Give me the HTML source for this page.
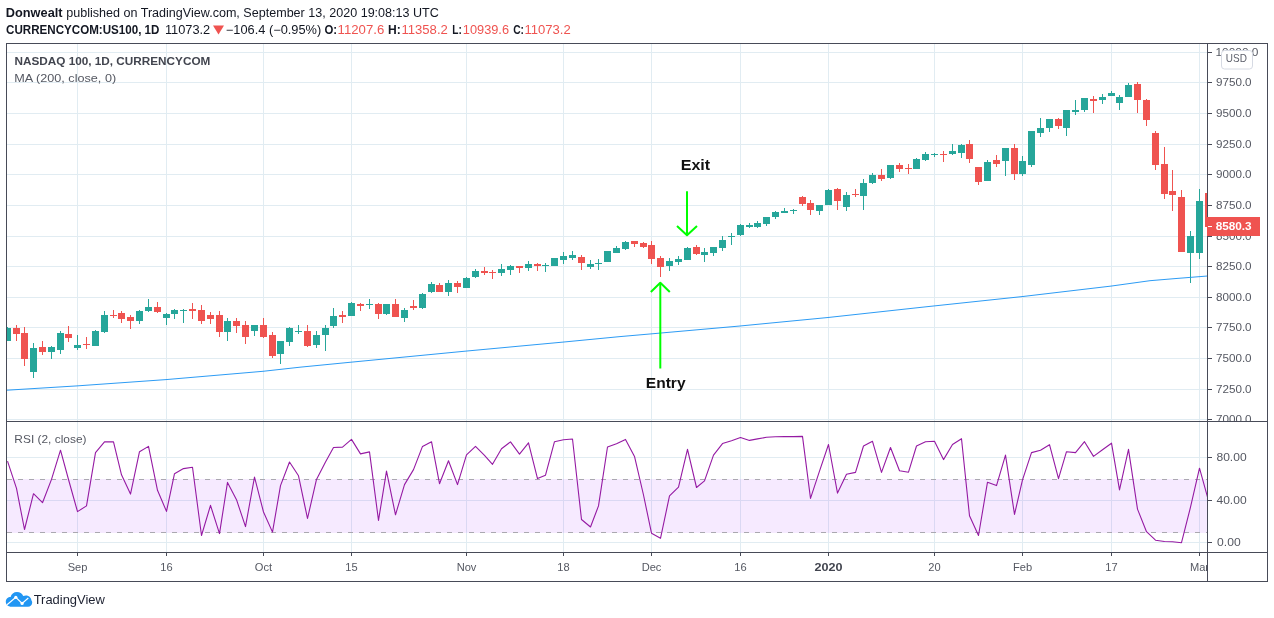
<!DOCTYPE html>
<html><head><meta charset="utf-8"><title>chart</title>
<style>
html,body{margin:0;padding:0;background:#fff;}
body{width:1274px;height:618px;overflow:hidden;position:relative;font-family:"Liberation Sans",sans-serif;}
svg{position:absolute;left:0;top:0;will-change:transform;}
svg text{font-family:"Liberation Sans",sans-serif;}
.ax{font-size:11.4px;fill:#555862;}
.b{font-weight:bold;}
.hd{position:absolute;white-space:nowrap;font-size:12px;line-height:14px;color:#131722;}
.hd b{font-weight:bold;}
.red{color:#ef5350;}
</style></head><body>
<svg width="1274" height="618" viewBox="0 0 1274 618">
<polygon points="213,25.5 224,25.5 218.5,34.5" fill="#ef5350"/>
<text x="5.8" y="17.0" textLength="56.74" lengthAdjust="spacingAndGlyphs" style="font-size:12px;font-weight:bold;fill:#131722">Donwealt</text><text x="66.23" y="17.0" textLength="372.64" lengthAdjust="spacingAndGlyphs" style="font-size:12px;font-weight:normal;fill:#131722">published on TradingView.com, September 13, 2020 19:08:13 UTC</text><text x="6.04" y="33.9" textLength="153.4" lengthAdjust="spacingAndGlyphs" style="font-size:12px;font-weight:bold;fill:#131722">CURRENCYCOM:US100, 1D</text><text x="164.93" y="33.9" textLength="45.31" lengthAdjust="spacingAndGlyphs" style="font-size:12px;font-weight:normal;fill:#131722">11073.2</text><text x="225.86" y="33.9" textLength="95.31" lengthAdjust="spacingAndGlyphs" style="font-size:12px;font-weight:normal;fill:#131722">−106.4 (−0.95%)</text><text x="324.43" y="33.9" textLength="12.68" lengthAdjust="spacingAndGlyphs" style="font-size:12px;font-weight:bold;fill:#131722">O:</text><text x="337.6" y="33.9" textLength="46.64" lengthAdjust="spacingAndGlyphs" style="font-size:12px;font-weight:normal;fill:#ef5350">11207.6</text><text x="388.11" y="33.9" textLength="12.75" lengthAdjust="spacingAndGlyphs" style="font-size:12px;font-weight:bold;fill:#131722">H:</text><text x="401.44" y="33.9" textLength="46.42" lengthAdjust="spacingAndGlyphs" style="font-size:12px;font-weight:normal;fill:#ef5350">11358.2</text><text x="452.26" y="33.9" textLength="9.56" lengthAdjust="spacingAndGlyphs" style="font-size:12px;font-weight:bold;fill:#131722">L:</text><text x="462.87" y="33.9" textLength="46.18" lengthAdjust="spacingAndGlyphs" style="font-size:12px;font-weight:normal;fill:#ef5350">10939.6</text><text x="513.21" y="33.9" textLength="10.81" lengthAdjust="spacingAndGlyphs" style="font-size:12px;font-weight:bold;fill:#131722">C:</text><text x="524.44" y="33.9" textLength="46.24" lengthAdjust="spacingAndGlyphs" style="font-size:12px;font-weight:normal;fill:#ef5350">11073.2</text>
<!-- rsi band -->
<g shape-rendering="crispEdges">
<rect x="7" y="52" width="1200" height="1" fill="#e1ecf2"/>
<rect x="7" y="82" width="1200" height="1" fill="#e1ecf2"/>
<rect x="7" y="113" width="1200" height="1" fill="#e1ecf2"/>
<rect x="7" y="144" width="1200" height="1" fill="#e1ecf2"/>
<rect x="7" y="174" width="1200" height="1" fill="#e1ecf2"/>
<rect x="7" y="205" width="1200" height="1" fill="#e1ecf2"/>
<rect x="7" y="236" width="1200" height="1" fill="#e1ecf2"/>
<rect x="7" y="266" width="1200" height="1" fill="#e1ecf2"/>
<rect x="7" y="297" width="1200" height="1" fill="#e1ecf2"/>
<rect x="7" y="327" width="1200" height="1" fill="#e1ecf2"/>
<rect x="7" y="358" width="1200" height="1" fill="#e1ecf2"/>
<rect x="7" y="389" width="1200" height="1" fill="#e1ecf2"/>
<rect x="7" y="419" width="1200" height="1" fill="#e1ecf2"/>
<rect x="7" y="457" width="1200" height="1" fill="#e1ecf2"/>
<rect x="7" y="500" width="1200" height="1" fill="#e1ecf2"/>
<rect x="7" y="542" width="1200" height="1" fill="#e1ecf2"/>
<rect x="77" y="44" width="1" height="508" fill="#e1ecf2"/>
<rect x="166" y="44" width="1" height="508" fill="#e1ecf2"/>
<rect x="263" y="44" width="1" height="508" fill="#e1ecf2"/>
<rect x="351" y="44" width="1" height="508" fill="#e1ecf2"/>
<rect x="466" y="44" width="1" height="508" fill="#e1ecf2"/>
<rect x="563" y="44" width="1" height="508" fill="#e1ecf2"/>
<rect x="651" y="44" width="1" height="508" fill="#e1ecf2"/>
<rect x="740" y="44" width="1" height="508" fill="#e1ecf2"/>
<rect x="828" y="44" width="1" height="508" fill="#e1ecf2"/>
<rect x="934" y="44" width="1" height="508" fill="#e1ecf2"/>
<rect x="1022" y="44" width="1" height="508" fill="#e1ecf2"/>
<rect x="1111" y="44" width="1" height="508" fill="#e1ecf2"/>
<rect x="1199" y="44" width="1" height="508" fill="#e1ecf2"/>
</g>
<rect x="7" y="479" width="1200" height="54" fill="#9915ff" fill-opacity="0.09"/>
<g shape-rendering="crispEdges" stroke="#aaa8b0" stroke-width="1" stroke-dasharray="5 6">
<line x1="7" y1="479.5" x2="1207" y2="479.5"/>
<line x1="7" y1="532.5" x2="1207" y2="532.5"/>
</g>
<clipPath id="cm"><rect x="7" y="44" width="1200" height="377"/></clipPath>
<clipPath id="cr"><rect x="7" y="422" width="1200" height="130"/></clipPath>
<g clip-path="url(#cm)">
<g shape-rendering="crispEdges">
<rect x="7" y="327" width="1" height="14" fill="#26a69a"/>
<rect x="4" y="328" width="7" height="13" fill="#26a69a"/>
<rect x="16" y="325" width="1" height="16" fill="#ef5350"/>
<rect x="13" y="328" width="7" height="6" fill="#ef5350"/>
<rect x="24" y="327" width="1" height="39" fill="#ef5350"/>
<rect x="21" y="333" width="7" height="26" fill="#ef5350"/>
<rect x="33" y="343" width="1" height="35" fill="#26a69a"/>
<rect x="30" y="348" width="7" height="24" fill="#26a69a"/>
<rect x="42" y="341" width="1" height="14" fill="#ef5350"/>
<rect x="39" y="347" width="7" height="5" fill="#ef5350"/>
<rect x="51" y="346" width="1" height="13" fill="#26a69a"/>
<rect x="48" y="347" width="7" height="5" fill="#26a69a"/>
<rect x="60" y="331" width="1" height="23" fill="#26a69a"/>
<rect x="57" y="333" width="7" height="17" fill="#26a69a"/>
<rect x="68" y="326" width="1" height="16" fill="#ef5350"/>
<rect x="65" y="334" width="7" height="4" fill="#ef5350"/>
<rect x="77" y="335" width="1" height="15" fill="#26a69a"/>
<rect x="74" y="345" width="7" height="3" fill="#26a69a"/>
<rect x="86" y="337" width="1" height="12" fill="#ef5350"/>
<rect x="83" y="344" width="7" height="1" fill="#ef5350"/>
<rect x="95" y="330" width="1" height="16" fill="#26a69a"/>
<rect x="92" y="331" width="7" height="15" fill="#26a69a"/>
<rect x="104" y="311" width="1" height="22" fill="#26a69a"/>
<rect x="101" y="315" width="7" height="17" fill="#26a69a"/>
<rect x="113" y="310" width="1" height="8" fill="#ef5350"/>
<rect x="110" y="315" width="7" height="1" fill="#ef5350"/>
<rect x="121" y="311" width="1" height="12" fill="#ef5350"/>
<rect x="118" y="313" width="7" height="6" fill="#ef5350"/>
<rect x="130" y="315" width="1" height="14" fill="#ef5350"/>
<rect x="127" y="317" width="7" height="4" fill="#ef5350"/>
<rect x="139" y="310" width="1" height="14" fill="#26a69a"/>
<rect x="136" y="311" width="7" height="10" fill="#26a69a"/>
<rect x="148" y="299" width="1" height="13" fill="#26a69a"/>
<rect x="145" y="307" width="7" height="4" fill="#26a69a"/>
<rect x="157" y="302" width="1" height="11" fill="#ef5350"/>
<rect x="154" y="307" width="7" height="5" fill="#ef5350"/>
<rect x="166" y="313" width="1" height="12" fill="#26a69a"/>
<rect x="163" y="314" width="7" height="4" fill="#26a69a"/>
<rect x="174" y="309" width="1" height="10" fill="#26a69a"/>
<rect x="171" y="310" width="7" height="4" fill="#26a69a"/>
<rect x="183" y="309" width="1" height="14" fill="#26a69a"/>
<rect x="180" y="310" width="7" height="1" fill="#26a69a"/>
<rect x="192" y="303" width="1" height="16" fill="#ef5350"/>
<rect x="189" y="309" width="7" height="2" fill="#ef5350"/>
<rect x="201" y="305" width="1" height="19" fill="#ef5350"/>
<rect x="198" y="310" width="7" height="11" fill="#ef5350"/>
<rect x="210" y="312" width="1" height="12" fill="#ef5350"/>
<rect x="207" y="315" width="7" height="4" fill="#ef5350"/>
<rect x="219" y="311" width="1" height="26" fill="#ef5350"/>
<rect x="216" y="315" width="7" height="17" fill="#ef5350"/>
<rect x="227" y="318" width="1" height="23" fill="#26a69a"/>
<rect x="224" y="321" width="7" height="11" fill="#26a69a"/>
<rect x="236" y="318" width="1" height="15" fill="#ef5350"/>
<rect x="233" y="321" width="7" height="5" fill="#ef5350"/>
<rect x="245" y="321" width="1" height="23" fill="#ef5350"/>
<rect x="242" y="325" width="7" height="12" fill="#ef5350"/>
<rect x="254" y="325" width="1" height="11" fill="#26a69a"/>
<rect x="251" y="325" width="7" height="6" fill="#26a69a"/>
<rect x="263" y="318" width="1" height="20" fill="#ef5350"/>
<rect x="260" y="325" width="7" height="12" fill="#ef5350"/>
<rect x="272" y="332" width="1" height="26" fill="#ef5350"/>
<rect x="269" y="335" width="7" height="21" fill="#ef5350"/>
<rect x="280" y="341" width="1" height="23" fill="#26a69a"/>
<rect x="277" y="341" width="7" height="13" fill="#26a69a"/>
<rect x="289" y="327" width="1" height="19" fill="#26a69a"/>
<rect x="286" y="328" width="7" height="14" fill="#26a69a"/>
<rect x="298" y="325" width="1" height="9" fill="#26a69a"/>
<rect x="295" y="331" width="7" height="1" fill="#26a69a"/>
<rect x="307" y="325" width="1" height="22" fill="#ef5350"/>
<rect x="304" y="331" width="7" height="15" fill="#ef5350"/>
<rect x="316" y="331" width="1" height="17" fill="#26a69a"/>
<rect x="313" y="335" width="7" height="10" fill="#26a69a"/>
<rect x="325" y="325" width="1" height="26" fill="#26a69a"/>
<rect x="322" y="328" width="7" height="7" fill="#26a69a"/>
<rect x="333" y="308" width="1" height="20" fill="#26a69a"/>
<rect x="330" y="316" width="7" height="10" fill="#26a69a"/>
<rect x="342" y="311" width="1" height="12" fill="#ef5350"/>
<rect x="339" y="315" width="7" height="2" fill="#ef5350"/>
<rect x="351" y="302" width="1" height="14" fill="#26a69a"/>
<rect x="348" y="303" width="7" height="13" fill="#26a69a"/>
<rect x="360" y="303" width="1" height="8" fill="#ef5350"/>
<rect x="357" y="304" width="7" height="2" fill="#ef5350"/>
<rect x="369" y="299" width="1" height="10" fill="#26a69a"/>
<rect x="366" y="304" width="7" height="1" fill="#26a69a"/>
<rect x="378" y="303" width="1" height="16" fill="#ef5350"/>
<rect x="375" y="304" width="7" height="10" fill="#ef5350"/>
<rect x="386" y="304" width="1" height="11" fill="#26a69a"/>
<rect x="383" y="304" width="7" height="10" fill="#26a69a"/>
<rect x="395" y="299" width="1" height="18" fill="#ef5350"/>
<rect x="392" y="304" width="7" height="13" fill="#ef5350"/>
<rect x="404" y="308" width="1" height="14" fill="#26a69a"/>
<rect x="401" y="310" width="7" height="8" fill="#26a69a"/>
<rect x="413" y="300" width="1" height="10" fill="#ef5350"/>
<rect x="410" y="306" width="7" height="2" fill="#ef5350"/>
<rect x="422" y="293" width="1" height="16" fill="#26a69a"/>
<rect x="419" y="294" width="7" height="14" fill="#26a69a"/>
<rect x="431" y="282" width="1" height="11" fill="#26a69a"/>
<rect x="428" y="284" width="7" height="8" fill="#26a69a"/>
<rect x="439" y="283" width="1" height="9" fill="#ef5350"/>
<rect x="436" y="285" width="7" height="7" fill="#ef5350"/>
<rect x="448" y="280" width="1" height="16" fill="#26a69a"/>
<rect x="445" y="283" width="7" height="9" fill="#26a69a"/>
<rect x="457" y="281" width="1" height="12" fill="#ef5350"/>
<rect x="454" y="283" width="7" height="4" fill="#ef5350"/>
<rect x="466" y="277" width="1" height="11" fill="#26a69a"/>
<rect x="463" y="278" width="7" height="10" fill="#26a69a"/>
<rect x="475" y="269" width="1" height="9" fill="#26a69a"/>
<rect x="472" y="271" width="7" height="6" fill="#26a69a"/>
<rect x="484" y="267" width="1" height="8" fill="#ef5350"/>
<rect x="481" y="271" width="7" height="2" fill="#ef5350"/>
<rect x="492" y="270" width="1" height="9" fill="#ef5350"/>
<rect x="489" y="272" width="7" height="1" fill="#ef5350"/>
<rect x="501" y="264" width="1" height="12" fill="#26a69a"/>
<rect x="498" y="269" width="7" height="4" fill="#26a69a"/>
<rect x="510" y="265" width="1" height="10" fill="#26a69a"/>
<rect x="507" y="266" width="7" height="4" fill="#26a69a"/>
<rect x="519" y="266" width="1" height="7" fill="#ef5350"/>
<rect x="516" y="266" width="7" height="2" fill="#ef5350"/>
<rect x="528" y="261" width="1" height="10" fill="#26a69a"/>
<rect x="525" y="264" width="7" height="4" fill="#26a69a"/>
<rect x="537" y="263" width="1" height="8" fill="#ef5350"/>
<rect x="534" y="264" width="7" height="2" fill="#ef5350"/>
<rect x="545" y="263" width="1" height="9" fill="#26a69a"/>
<rect x="542" y="265" width="7" height="1" fill="#26a69a"/>
<rect x="554" y="258" width="1" height="8" fill="#26a69a"/>
<rect x="551" y="258" width="7" height="8" fill="#26a69a"/>
<rect x="563" y="252" width="1" height="12" fill="#26a69a"/>
<rect x="560" y="256" width="7" height="4" fill="#26a69a"/>
<rect x="572" y="251" width="1" height="9" fill="#26a69a"/>
<rect x="569" y="255" width="7" height="3" fill="#26a69a"/>
<rect x="581" y="255" width="1" height="15" fill="#ef5350"/>
<rect x="578" y="257" width="7" height="6" fill="#ef5350"/>
<rect x="590" y="260" width="1" height="9" fill="#26a69a"/>
<rect x="587" y="264" width="7" height="3" fill="#26a69a"/>
<rect x="598" y="259" width="1" height="11" fill="#26a69a"/>
<rect x="595" y="263" width="7" height="1" fill="#26a69a"/>
<rect x="607" y="251" width="1" height="11" fill="#26a69a"/>
<rect x="604" y="251" width="7" height="11" fill="#26a69a"/>
<rect x="616" y="246" width="1" height="7" fill="#26a69a"/>
<rect x="613" y="248" width="7" height="5" fill="#26a69a"/>
<rect x="625" y="241" width="1" height="9" fill="#26a69a"/>
<rect x="622" y="242" width="7" height="7" fill="#26a69a"/>
<rect x="634" y="241" width="1" height="6" fill="#ef5350"/>
<rect x="631" y="241" width="7" height="3" fill="#ef5350"/>
<rect x="643" y="242" width="1" height="6" fill="#ef5350"/>
<rect x="640" y="243" width="7" height="4" fill="#ef5350"/>
<rect x="651" y="241" width="1" height="23" fill="#ef5350"/>
<rect x="648" y="245" width="7" height="14" fill="#ef5350"/>
<rect x="660" y="256" width="1" height="21" fill="#ef5350"/>
<rect x="657" y="258" width="7" height="9" fill="#ef5350"/>
<rect x="669" y="258" width="1" height="13" fill="#26a69a"/>
<rect x="666" y="261" width="7" height="5" fill="#26a69a"/>
<rect x="678" y="256" width="1" height="9" fill="#26a69a"/>
<rect x="675" y="259" width="7" height="3" fill="#26a69a"/>
<rect x="687" y="247" width="1" height="13" fill="#26a69a"/>
<rect x="684" y="248" width="7" height="12" fill="#26a69a"/>
<rect x="696" y="245" width="1" height="10" fill="#ef5350"/>
<rect x="693" y="247" width="7" height="7" fill="#ef5350"/>
<rect x="704" y="248" width="1" height="14" fill="#26a69a"/>
<rect x="701" y="252" width="7" height="3" fill="#26a69a"/>
<rect x="713" y="247" width="1" height="9" fill="#26a69a"/>
<rect x="710" y="247" width="7" height="6" fill="#26a69a"/>
<rect x="722" y="236" width="1" height="15" fill="#26a69a"/>
<rect x="719" y="240" width="7" height="8" fill="#26a69a"/>
<rect x="731" y="233" width="1" height="12" fill="#26a69a"/>
<rect x="728" y="236" width="7" height="1" fill="#26a69a"/>
<rect x="740" y="224" width="1" height="12" fill="#26a69a"/>
<rect x="737" y="225" width="7" height="10" fill="#26a69a"/>
<rect x="749" y="223" width="1" height="5" fill="#26a69a"/>
<rect x="746" y="225" width="7" height="2" fill="#26a69a"/>
<rect x="757" y="221" width="1" height="7" fill="#26a69a"/>
<rect x="754" y="223" width="7" height="4" fill="#26a69a"/>
<rect x="766" y="217" width="1" height="9" fill="#26a69a"/>
<rect x="763" y="217" width="7" height="7" fill="#26a69a"/>
<rect x="775" y="211" width="1" height="8" fill="#26a69a"/>
<rect x="772" y="212" width="7" height="5" fill="#26a69a"/>
<rect x="784" y="208" width="1" height="5" fill="#26a69a"/>
<rect x="781" y="211" width="7" height="2" fill="#26a69a"/>
<rect x="793" y="209" width="1" height="5" fill="#26a69a"/>
<rect x="790" y="210" width="7" height="1" fill="#26a69a"/>
<rect x="802" y="196" width="1" height="10" fill="#ef5350"/>
<rect x="799" y="197" width="7" height="7" fill="#ef5350"/>
<rect x="810" y="200" width="1" height="15" fill="#ef5350"/>
<rect x="807" y="203" width="7" height="7" fill="#ef5350"/>
<rect x="819" y="205" width="1" height="10" fill="#26a69a"/>
<rect x="816" y="205" width="7" height="6" fill="#26a69a"/>
<rect x="828" y="189" width="1" height="16" fill="#26a69a"/>
<rect x="825" y="190" width="7" height="15" fill="#26a69a"/>
<rect x="837" y="188" width="1" height="22" fill="#ef5350"/>
<rect x="834" y="189" width="7" height="12" fill="#ef5350"/>
<rect x="846" y="192" width="1" height="19" fill="#26a69a"/>
<rect x="843" y="195" width="7" height="12" fill="#26a69a"/>
<rect x="855" y="189" width="1" height="8" fill="#ef5350"/>
<rect x="852" y="194" width="7" height="1" fill="#ef5350"/>
<rect x="863" y="179" width="1" height="31" fill="#26a69a"/>
<rect x="860" y="183" width="7" height="13" fill="#26a69a"/>
<rect x="872" y="173" width="1" height="11" fill="#26a69a"/>
<rect x="869" y="175" width="7" height="8" fill="#26a69a"/>
<rect x="881" y="169" width="1" height="12" fill="#ef5350"/>
<rect x="878" y="175" width="7" height="4" fill="#ef5350"/>
<rect x="890" y="165" width="1" height="14" fill="#26a69a"/>
<rect x="887" y="165" width="7" height="13" fill="#26a69a"/>
<rect x="899" y="163" width="1" height="9" fill="#ef5350"/>
<rect x="896" y="165" width="7" height="4" fill="#ef5350"/>
<rect x="908" y="164" width="1" height="10" fill="#ef5350"/>
<rect x="905" y="168" width="7" height="1" fill="#ef5350"/>
<rect x="916" y="158" width="1" height="11" fill="#26a69a"/>
<rect x="913" y="159" width="7" height="10" fill="#26a69a"/>
<rect x="925" y="152" width="1" height="9" fill="#26a69a"/>
<rect x="922" y="154" width="7" height="6" fill="#26a69a"/>
<rect x="934" y="153" width="1" height="4" fill="#26a69a"/>
<rect x="931" y="154" width="7" height="1" fill="#26a69a"/>
<rect x="943" y="151" width="1" height="11" fill="#ef5350"/>
<rect x="940" y="154" width="7" height="1" fill="#ef5350"/>
<rect x="952" y="144" width="1" height="11" fill="#26a69a"/>
<rect x="949" y="151" width="7" height="3" fill="#26a69a"/>
<rect x="961" y="144" width="1" height="14" fill="#26a69a"/>
<rect x="958" y="145" width="7" height="8" fill="#26a69a"/>
<rect x="969" y="140" width="1" height="23" fill="#ef5350"/>
<rect x="966" y="144" width="7" height="15" fill="#ef5350"/>
<rect x="978" y="167" width="1" height="18" fill="#ef5350"/>
<rect x="975" y="167" width="7" height="15" fill="#ef5350"/>
<rect x="987" y="160" width="1" height="21" fill="#26a69a"/>
<rect x="984" y="162" width="7" height="19" fill="#26a69a"/>
<rect x="996" y="155" width="1" height="12" fill="#ef5350"/>
<rect x="993" y="160" width="7" height="4" fill="#ef5350"/>
<rect x="1005" y="148" width="1" height="28" fill="#26a69a"/>
<rect x="1002" y="148" width="7" height="13" fill="#26a69a"/>
<rect x="1014" y="144" width="1" height="36" fill="#ef5350"/>
<rect x="1011" y="148" width="7" height="26" fill="#ef5350"/>
<rect x="1022" y="156" width="1" height="20" fill="#26a69a"/>
<rect x="1019" y="161" width="7" height="13" fill="#26a69a"/>
<rect x="1031" y="131" width="1" height="36" fill="#26a69a"/>
<rect x="1028" y="131" width="7" height="34" fill="#26a69a"/>
<rect x="1040" y="118" width="1" height="19" fill="#26a69a"/>
<rect x="1037" y="128" width="7" height="5" fill="#26a69a"/>
<rect x="1049" y="119" width="1" height="13" fill="#26a69a"/>
<rect x="1046" y="119" width="7" height="9" fill="#26a69a"/>
<rect x="1058" y="118" width="1" height="11" fill="#ef5350"/>
<rect x="1055" y="119" width="7" height="7" fill="#ef5350"/>
<rect x="1066" y="110" width="1" height="26" fill="#26a69a"/>
<rect x="1063" y="110" width="7" height="18" fill="#26a69a"/>
<rect x="1075" y="100" width="1" height="15" fill="#26a69a"/>
<rect x="1072" y="110" width="7" height="2" fill="#26a69a"/>
<rect x="1084" y="98" width="1" height="14" fill="#26a69a"/>
<rect x="1081" y="98" width="7" height="12" fill="#26a69a"/>
<rect x="1093" y="96" width="1" height="17" fill="#ef5350"/>
<rect x="1090" y="99" width="7" height="2" fill="#ef5350"/>
<rect x="1102" y="94" width="1" height="10" fill="#26a69a"/>
<rect x="1099" y="97" width="7" height="3" fill="#26a69a"/>
<rect x="1111" y="91" width="1" height="5" fill="#26a69a"/>
<rect x="1108" y="93" width="7" height="3" fill="#26a69a"/>
<rect x="1119" y="95" width="1" height="15" fill="#26a69a"/>
<rect x="1116" y="97" width="7" height="6" fill="#26a69a"/>
<rect x="1128" y="83" width="1" height="14" fill="#26a69a"/>
<rect x="1125" y="85" width="7" height="12" fill="#26a69a"/>
<rect x="1137" y="82" width="1" height="31" fill="#ef5350"/>
<rect x="1134" y="84" width="7" height="16" fill="#ef5350"/>
<rect x="1146" y="99" width="1" height="27" fill="#ef5350"/>
<rect x="1143" y="100" width="7" height="20" fill="#ef5350"/>
<rect x="1155" y="131" width="1" height="39" fill="#ef5350"/>
<rect x="1152" y="133" width="7" height="32" fill="#ef5350"/>
<rect x="1164" y="147" width="1" height="52" fill="#ef5350"/>
<rect x="1161" y="164" width="7" height="30" fill="#ef5350"/>
<rect x="1172" y="170" width="1" height="41" fill="#ef5350"/>
<rect x="1169" y="191" width="7" height="4" fill="#ef5350"/>
<rect x="1181" y="190" width="1" height="62" fill="#ef5350"/>
<rect x="1178" y="197" width="7" height="55" fill="#ef5350"/>
<rect x="1190" y="231" width="1" height="52" fill="#26a69a"/>
<rect x="1187" y="236" width="7" height="17" fill="#26a69a"/>
<rect x="1199" y="189" width="1" height="70" fill="#26a69a"/>
<rect x="1196" y="201" width="7" height="52" fill="#26a69a"/>
<rect x="1208" y="193" width="1" height="34" fill="#ef5350"/>
<rect x="1205" y="193" width="7" height="34" fill="#ef5350"/>
</g>
<polyline points="7,390.2 77,385.9 166,379.6 263,371.3 300,367.2 351,362.2 466,351.1 563,342.1 620,336.6 651,333.9 740,326.0 828,317.5 927,306.7 1022,296.6 1111,286.1 1150,280.7 1175,278.6 1207.5,276.0" fill="none" stroke="#2196f3" stroke-width="0.95" stroke-linejoin="round"/>
</g>
<g clip-path="url(#cr)">
<polyline points="7.5,461.1 16.5,488.4 24.5,529.5 33.5,493.7 42.5,502.7 51.5,479.4 60.5,450.2 68.5,479.5 77.5,511.6 86.5,505.9 95.5,452.6 104.5,441.9 113.5,441.9 121.5,474.8 130.5,494.1 139.5,451.7 148.5,446.4 157.5,490.3 166.5,511.4 174.5,473.7 183.5,468.6 192.5,467.3 201.5,535.5 210.5,505.4 219.5,533.6 227.5,482.4 236.5,499.7 245.5,526.6 254.5,477.1 263.5,512.0 272.5,532.1 280.5,485.6 289.5,462.0 298.5,475.8 307.5,518.5 316.5,479.4 325.5,462.0 333.5,447.5 342.5,447.1 351.5,439.4 360.5,453.9 369.5,451.9 378.5,520.4 386.5,471.1 395.5,514.8 404.5,484.6 413.5,469.6 422.5,446.4 431.5,441.7 439.5,483.7 448.5,460.7 457.5,484.6 466.5,454.9 475.5,446.4 484.5,455.4 492.5,464.3 501.5,448.8 510.5,441.9 519.5,454.1 528.5,442.8 537.5,478.6 545.5,475.2 554.5,441.7 563.5,439.8 572.5,439.0 581.5,519.5 590.5,527.0 598.5,505.9 607.5,447.0 616.5,443.8 625.5,439.4 634.5,456.4 643.5,495.0 651.5,533.2 660.5,538.3 669.5,495.9 678.5,487.1 687.5,449.4 696.5,487.5 704.5,480.9 713.5,455.1 722.5,443.6 731.5,440.7 740.5,437.5 749.5,440.4 757.5,438.9 766.5,437.3 775.5,436.8 784.5,436.6 793.5,436.6 802.5,436.4 810.5,498.4 819.5,471.1 828.5,444.5 837.5,493.1 846.5,474.3 855.5,472.4 863.5,446.0 872.5,441.3 881.5,472.4 890.5,447.5 899.5,470.7 908.5,472.2 916.5,446.0 925.5,441.7 934.5,441.3 943.5,459.6 952.5,444.5 961.5,438.7 969.5,515.7 978.5,535.5 987.5,482.2 996.5,485.6 1005.5,455.1 1014.5,514.4 1022.5,479.9 1031.5,452.6 1040.5,450.2 1049.5,444.7 1058.5,478.6 1066.5,451.7 1075.5,452.6 1084.5,441.7 1093.5,456.4 1102.5,449.8 1111.5,443.2 1119.5,489.9 1128.5,449.4 1137.5,509.1 1146.5,531.7 1155.5,540.2 1164.5,541.5 1172.5,541.7 1181.5,542.7 1190.5,507.2 1199.5,468.2 1208.5,500.6" fill="none" stroke="#951aa3" stroke-width="1.1" stroke-linejoin="round"/>
</g>
<!-- arrows -->
<g fill="none" stroke="#00ff00" stroke-width="2" stroke-linecap="butt" stroke-linejoin="round">
<path d="M687 191.3 V234.5"/><path d="M677 226 L687 235.3 L697 226"/>
<path d="M660.3 368.5 V283.5"/><path d="M650.8 292 L660.3 282.8 L669.8 292"/>
</g>
<text x="680.75" y="169.9" textLength="29.41" lengthAdjust="spacingAndGlyphs" style="font-size:14px;font-weight:bold;fill:#111111">Exit</text>
<text x="645.87" y="387.9" textLength="39.67" lengthAdjust="spacingAndGlyphs" style="font-size:14px;font-weight:bold;fill:#111111">Entry</text>
<!-- pane labels -->
<text x="14.5" y="64.7" textLength="195.82" lengthAdjust="spacingAndGlyphs" style="font-size:11.2px;font-weight:bold;fill:#42454f">NASDAQ 100, 1D, CURRENCYCOM</text>
<text x="14.29" y="81.5" textLength="101.85" lengthAdjust="spacingAndGlyphs" style="font-size:11.2px;font-weight:normal;fill:#555862">MA (200, close, 0)</text>
<text x="14.37" y="442.9" textLength="72.17" lengthAdjust="spacingAndGlyphs" style="font-size:11.6px;font-weight:normal;fill:#555862">RSI (2, close)</text>
<!-- axes -->
<clipPath id="ca"><rect x="1208" y="44" width="59" height="377"/></clipPath>
<g clip-path="url(#ca)">
<rect x="1208" y="52" width="4" height="1" fill="#484b58"/>
<text x="1215.53" y="56.0" textLength="42.91" lengthAdjust="spacingAndGlyphs" style="font-size:11.4px;font-weight:normal;fill:#555862">10000.0</text>
<rect x="1208" y="82" width="4" height="1" fill="#484b58"/>
<text x="1215.96" y="86.0" textLength="35.65" lengthAdjust="spacingAndGlyphs" style="font-size:11.4px;font-weight:normal;fill:#555862">9750.0</text>
<rect x="1208" y="113" width="4" height="1" fill="#484b58"/>
<text x="1215.96" y="117.0" textLength="35.65" lengthAdjust="spacingAndGlyphs" style="font-size:11.4px;font-weight:normal;fill:#555862">9500.0</text>
<rect x="1208" y="144" width="4" height="1" fill="#484b58"/>
<text x="1215.96" y="148.0" textLength="35.65" lengthAdjust="spacingAndGlyphs" style="font-size:11.4px;font-weight:normal;fill:#555862">9250.0</text>
<rect x="1208" y="174" width="4" height="1" fill="#484b58"/>
<text x="1215.96" y="178.0" textLength="35.65" lengthAdjust="spacingAndGlyphs" style="font-size:11.4px;font-weight:normal;fill:#555862">9000.0</text>
<rect x="1208" y="205" width="4" height="1" fill="#484b58"/>
<text x="1215.96" y="209.0" textLength="35.65" lengthAdjust="spacingAndGlyphs" style="font-size:11.4px;font-weight:normal;fill:#555862">8750.0</text>
<rect x="1208" y="236" width="4" height="1" fill="#484b58"/>
<text x="1215.96" y="240.0" textLength="35.65" lengthAdjust="spacingAndGlyphs" style="font-size:11.4px;font-weight:normal;fill:#555862">8500.0</text>
<rect x="1208" y="266" width="4" height="1" fill="#484b58"/>
<text x="1215.96" y="270.0" textLength="35.65" lengthAdjust="spacingAndGlyphs" style="font-size:11.4px;font-weight:normal;fill:#555862">8250.0</text>
<rect x="1208" y="297" width="4" height="1" fill="#484b58"/>
<text x="1215.96" y="301.0" textLength="35.65" lengthAdjust="spacingAndGlyphs" style="font-size:11.4px;font-weight:normal;fill:#555862">8000.0</text>
<rect x="1208" y="327" width="4" height="1" fill="#484b58"/>
<text x="1215.96" y="331.0" textLength="35.65" lengthAdjust="spacingAndGlyphs" style="font-size:11.4px;font-weight:normal;fill:#555862">7750.0</text>
<rect x="1208" y="358" width="4" height="1" fill="#484b58"/>
<text x="1215.96" y="362.0" textLength="35.65" lengthAdjust="spacingAndGlyphs" style="font-size:11.4px;font-weight:normal;fill:#555862">7500.0</text>
<rect x="1208" y="389" width="4" height="1" fill="#484b58"/>
<text x="1215.96" y="393.0" textLength="35.65" lengthAdjust="spacingAndGlyphs" style="font-size:11.4px;font-weight:normal;fill:#555862">7250.0</text>
<rect x="1208" y="419" width="4" height="1" fill="#484b58"/>
<text x="1215.96" y="423.0" textLength="35.65" lengthAdjust="spacingAndGlyphs" style="font-size:11.4px;font-weight:normal;fill:#555862">7000.0</text>
</g>
<rect x="1208" y="457" width="4" height="1" fill="#484b58"/>
<text x="1216.44" y="461.0" textLength="30.16" lengthAdjust="spacingAndGlyphs" style="font-size:11.4px;font-weight:normal;fill:#555862">80.00</text>
<rect x="1208" y="500" width="4" height="1" fill="#484b58"/>
<text x="1216.44" y="504.0" textLength="30.16" lengthAdjust="spacingAndGlyphs" style="font-size:11.4px;font-weight:normal;fill:#555862">40.00</text>
<rect x="1208" y="542" width="4" height="1" fill="#484b58"/>
<text x="1217.11" y="546.0" textLength="23.56" lengthAdjust="spacingAndGlyphs" style="font-size:11.4px;font-weight:normal;fill:#555862">0.00</text>
<clipPath id="ct"><rect x="7" y="553" width="1200" height="28"/></clipPath>
<g clip-path="url(#ct)">
<rect x="77" y="553" width="1" height="3" fill="#484b58"/>
<text x="77.5" y="570.9" text-anchor="middle" class="ax" style="font-size:11.1px">Sep</text>
<rect x="166" y="553" width="1" height="3" fill="#484b58"/>
<text x="166.5" y="570.9" text-anchor="middle" class="ax" style="font-size:11.1px">16</text>
<rect x="263" y="553" width="1" height="3" fill="#484b58"/>
<text x="263.5" y="570.9" text-anchor="middle" class="ax" style="font-size:11.1px">Oct</text>
<rect x="351" y="553" width="1" height="3" fill="#484b58"/>
<text x="351.5" y="570.9" text-anchor="middle" class="ax" style="font-size:11.1px">15</text>
<rect x="466" y="553" width="1" height="3" fill="#484b58"/>
<text x="466.5" y="570.9" text-anchor="middle" class="ax" style="font-size:11.1px">Nov</text>
<rect x="563" y="553" width="1" height="3" fill="#484b58"/>
<text x="563.5" y="570.9" text-anchor="middle" class="ax" style="font-size:11.1px">18</text>
<rect x="651" y="553" width="1" height="3" fill="#484b58"/>
<text x="651.5" y="570.9" text-anchor="middle" class="ax" style="font-size:11.1px">Dec</text>
<rect x="740" y="553" width="1" height="3" fill="#484b58"/>
<text x="740.5" y="570.9" text-anchor="middle" class="ax" style="font-size:11.1px">16</text>
<rect x="828" y="553" width="1" height="3" fill="#484b58"/>
<text x="828.5" y="570.9" text-anchor="middle" class="ax b" textLength="28" lengthAdjust="spacingAndGlyphs" style="font-size:11.4px;fill:#42454f">2020</text>
<rect x="934" y="553" width="1" height="3" fill="#484b58"/>
<text x="934.5" y="570.9" text-anchor="middle" class="ax" style="font-size:11.1px">20</text>
<rect x="1022" y="553" width="1" height="3" fill="#484b58"/>
<text x="1022.5" y="570.9" text-anchor="middle" class="ax" style="font-size:11.1px">Feb</text>
<rect x="1111" y="553" width="1" height="3" fill="#484b58"/>
<text x="1111.5" y="570.9" text-anchor="middle" class="ax" style="font-size:11.1px">17</text>
<rect x="1199" y="553" width="1" height="3" fill="#484b58"/>
<text x="1199.5" y="570.9" text-anchor="middle" class="ax" style="font-size:11.1px">Mar</text>
</g>
<!-- price label -->
<!-- USD badge -->
<rect x="1221.5" y="50.5" width="31" height="18.5" rx="3" ry="3" fill="#fff" stroke="#d6dae3" stroke-width="1"/>
<text x="1225.81" y="61.9" textLength="21.05" lengthAdjust="spacingAndGlyphs" style="font-size:11.4px;font-weight:normal;fill:#5d606b">USD</text>
<!-- frame -->
<g shape-rendering="crispEdges" fill="#484b58">
<rect x="6" y="43" width="1262" height="1"/>
<rect x="6" y="581" width="1262" height="1"/>
<rect x="6" y="43" width="1" height="539"/>
<rect x="1267" y="43" width="1" height="539"/>
<rect x="1207" y="43" width="1" height="539"/>
<rect x="6" y="421" width="1262" height="1"/>
<rect x="6" y="552" width="1262" height="1"/>
</g>
<rect x="1207" y="217" width="53" height="19" fill="#ef5350"/>
<rect x="1208" y="226" width="4" height="1" fill="#fff"/>
<text x="1215.66" y="230.3" textLength="35.98" lengthAdjust="spacingAndGlyphs" style="font-size:11.4px;font-weight:bold;fill:#ffffff">8580.3</text>
<!-- logo -->
<g>
<path d="M11.5 606.8 C8 606.8 5.8 604.5 5.8 601.8 C5.8 599 8 597 10.6 597 C11.2 594 13.8 592 17 592 C19.8 592 22.2 593.6 23.2 596 C24 595.6 25 595.4 26 595.4 C29 595.4 31.2 597.6 31.4 600.2 C32 601 32.2 601.8 32.2 602.6 C32.2 605 30.4 606.8 28 606.8 Z" fill="#2196f3"/>
<path d="M7 604.8 L15.8 597.2 L22.1 603.4 L28.3 598" fill="none" stroke="#fff" stroke-width="1.2"/>
<circle cx="15.8" cy="597.3" r="1.6" fill="#fff"/><circle cx="22.1" cy="603.4" r="1.6" fill="#fff"/>
<text x="33.7" y="604.0" textLength="71.16" lengthAdjust="spacingAndGlyphs" style="font-size:12.7px;font-weight:normal;fill:#1c2030">TradingView</text>
</g>
</svg>
</body></html>
